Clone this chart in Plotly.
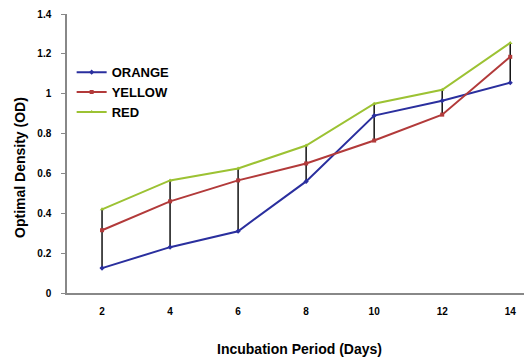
import plotly.graph_objects as go

days = ["2", "4", "6", "8", "10", "12", "14"]
orange = [0.125, 0.23, 0.31, 0.56, 0.89, 0.965, 1.055]
yellow = [0.315, 0.46, 0.565, 0.65, 0.765, 0.895, 1.185]
red = [0.42, 0.565, 0.625, 0.74, 0.95, 1.02, 1.255]
y_ticks = [0, 0.2, 0.4, 0.6, 0.8, 1.0, 1.2, 1.4]
y_tick_labels = ["0", "0.2", "0.4", "0.6", "0.8", "1", "1.2", "1.4"]

lows = [min(a, b, c) for a, b, c in zip(orange, yellow, red)]
highs = [max(a, b, c) for a, b, c in zip(orange, yellow, red)]

font = "Liberation Sans, Arial, sans-serif"

fig = go.Figure()
fig.add_trace(go.Scatter(
    x=days, y=highs, mode="lines", showlegend=False, hoverinfo="skip",
    line=dict(width=0, color="rgba(0,0,0,0)"),
    error_y=dict(type="data", symmetric=False, array=[0] * len(days),
                 arrayminus=[h - l for h, l in zip(highs, lows)],
                 color="#111111", thickness=1.5, width=0),
))
fig.add_trace(go.Scatter(
    x=days, y=orange, name="ORANGE", mode="lines+markers",
    line=dict(color="#2a2f9e", width=2),
    marker=dict(symbol="diamond", size=4, color="#2a2f9e"),
))
fig.add_trace(go.Scatter(
    x=days, y=yellow, name="YELLOW", mode="lines+markers",
    line=dict(color="#b23a3a", width=2),
    marker=dict(symbol="square", size=4, color="#b23a3a"),
))
fig.add_trace(go.Scatter(
    x=days, y=red, name="RED", mode="lines+markers",
    line=dict(color="#9cc233", width=2),
    marker=dict(symbol="triangle-up", size=4, color="#9cc233"),
))

fig.update_layout(
    width=524, height=352,
    margin=dict(l=59, r=0, t=6, b=67),
    paper_bgcolor="white", plot_bgcolor="white",
    font=dict(family=font, size=10, color="black"),
    showlegend=True,
    legend=dict(x=0.01, y=0.845, xanchor="left", yanchor="top",
                font=dict(family=font, size=13, color="black", weight="bold"),
                bgcolor="rgba(0,0,0,0)", itemwidth=30, tracegroupgap=0),
    xaxis=dict(
        type="category", showgrid=False, zeroline=False,
        showline=True, linecolor="#888888", linewidth=1.5,
        ticks="", ticklabelstandoff=8,
        tickfont=dict(family=font, size=10, weight="bold"),
        range=[-0.515, 6.32],
        title=dict(text="Incubation Period (Days)", standoff=28,
                   font=dict(family=font, size=14, weight="bold")),
    ),
    yaxis=dict(
        range=[0, 1.4], tickvals=y_ticks, ticktext=y_tick_labels,
        showgrid=False, zeroline=False,
        showline=True, linecolor="#888888", linewidth=1.5,
        ticks="outside", ticklen=4, tickcolor="#888888",
        ticklabelstandoff=8,
        tickfont=dict(family=font, size=10, weight="bold"),
    ),
    annotations=[dict(
        text="Optimal Density (OD)", textangle=-90,
        xref="paper", yref="paper", x=-0.1, y=0.45,
        xanchor="center", yanchor="middle", showarrow=False,
        font=dict(family=font, size=14, weight="bold", color="black"),
    )],
)

fig.write_html("out.html")
